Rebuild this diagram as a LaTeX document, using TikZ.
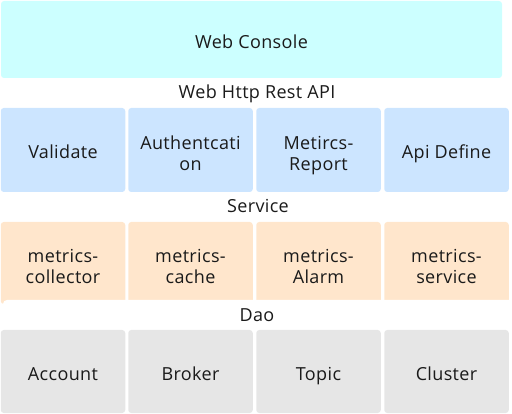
\documentclass[tikz,border=0pt]{standalone}
\usepackage{fontspec}
\setmainfont[LetterSpace=2]{Open Sans}
\definecolor{consolecyan}{HTML}{CCFFFF}
\definecolor{apiblue}{HTML}{CCE5FF}
\definecolor{serviceorange}{HTML}{FFE6CC}
\definecolor{daogray}{HTML}{E6E6E6}
\definecolor{inktext}{HTML}{1A1A1A}
\tikzset{
  layerbox/.style={rounded corners=3pt,inner sep=0pt,outer sep=0pt,
    minimum width=124.5pt},
  layertext/.style={inner sep=0pt,align=center,text=inktext,
    font=\fontsize{18pt}{21pt}\selectfont,
    execute at begin node=\strut,execute at end node=\strut},
  layerlabel/.style={inner sep=0pt,anchor=base,text=inktext,
    font=\fontsize{18pt}{21pt}\selectfont}
}
\begin{document}
\begin{tikzpicture}[x=1pt,y=-1pt]
\useasboundingbox (0,0) rectangle (512,414);

% Web console on top
\node[layerbox,fill=consolecyan,minimum width=501pt,minimum height=77pt]
  (console) at (251.5,39.5) {};
\node[layertext] (console-t) at ([yshift=-4.5pt]console.center) {Web Console};
\node[layerlabel] (restlabel) at (257,99) {Web Http Rest API};

% Rest API row
\foreach \n/\x/\s/\t in {validate/63/4/Validate,auth/190.5/6.5/{Authentcati\\on},
    report/318.5/6.5/{Metircs-\\Report},apidef/446.5/4/{Api Define}} {
  \node[layerbox,fill=apiblue,minimum height=84pt] (\n) at (\x,150) {};
  \node[layertext] (\n-t) at ([yshift=-\s pt]\n.center) {\t};
}
\node[layerlabel] (servicelabel) at (258,213) {Service};

% Service row (bottom cut by the Dao band)
\foreach \n/\x/\t in {collector/63/collector,cache/190.5/cache,
    alarm/318.5/Alarm,mservice/446.5/service} {
  \node[layerbox,fill=serviceorange,minimum height=82pt] (\n) at (\x,263) {};
  \node[layertext] (\n-t) at ([yshift=-6.5pt]\n.center) {metrics-\\\t};
}

% Dao band
\fill[white,rounded corners=4pt] (3,300) rectangle (530,328);
\node[layerlabel] (daolabel) at (257,321.5) {Dao};

% Dao row
\foreach \n/\x/\t in {account/63/Account,broker/190.5/Broker,
    topic/318.5/Topic,cluster/446.5/Cluster} {
  \node[layerbox,fill=daogray,minimum height=83pt] (\n) at (\x,371.5) {};
  \node[layertext] (\n-t) at ([yshift=-4.5pt]\n.center) {\t};
}

\end{tikzpicture}
\end{document}
